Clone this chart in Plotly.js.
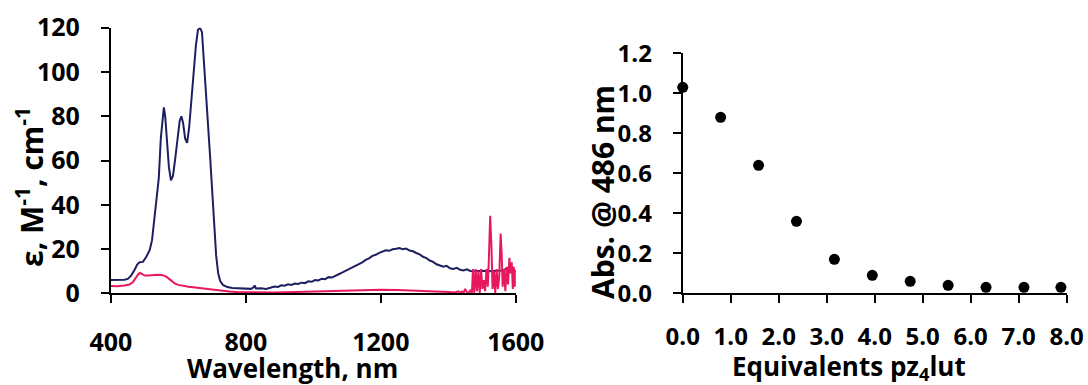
<!DOCTYPE html>
<html>
<head>
<meta charset="utf-8">
<script src="https://cdn.plot.ly/plotly-3.0.1.min.js"></script>
<style>html,body{margin:0;padding:0;background:#fff;}#chart{width:1088px;height:385px;}</style>
</head>
<body>
<div id="chart"></div>
<script>
// Left panel: absorption spectra (wavelength in nm, epsilon in M^-1 cm^-1)
const blueWavelength = [400,420,440,450,460,470,478,485,495,505,515,522,528,535,542,548,553,557,561,566,572,578,584,590,597,604,609,614,620,626,632,638,645,652,658,664,670,676,682,688,694,700,706,712,718,724,732,745,760,780,800,815,822,826,830,845,860,875,885,895,905,915,925,935,945,955,965,975,985,995,1005,1015,1025,1035,1045,1055,1065,1075,1085,1095,1105,1115,1125,1135,1145,1155,1165,1175,1185,1195,1205,1215,1225,1235,1245,1255,1265,1275,1285,1295,1305,1315,1325,1335,1345,1355,1365,1375,1385,1395,1405,1415,1425,1435,1445,1455,1465,1480,1500,1520,1540,1560,1575,1585,1592,1600];
const blueEpsilon = [6.0,6.0,6.1,6.5,8.0,10.5,13.0,14.0,14.2,16.5,19.5,24,33,41,52,70,80,84,80,68,57,51,53,60,70,78,80,77,70,68,75,87,100,112,119,120,118,105,92,78,62,47,32,17,9,5.5,3.8,2.8,2.4,2.2,2.1,2.0,2.6,3.5,2.2,2.3,2.0,2.6,3.1,2.9,3.6,3.4,4.1,3.8,4.4,4.2,4.8,4.6,5.4,5.2,6.0,5.8,6.6,6.4,7.3,7.1,8.0,8.6,9.3,10.1,10.7,11.6,12.3,13.4,14.0,15.1,15.8,16.9,17.4,18.3,18.7,19.4,19.2,19.9,20.1,20.4,19.9,20.2,19.3,19.0,18.2,17.6,16.5,15.9,14.8,14.2,13.1,12.7,12.0,12.4,11.3,11.0,11.5,10.6,10.3,10.8,10.1,10.0,10.2,10.0,10.1,10.3,11.2,12.0,10.8,9.8];

const pinkWavelength = [400,420,440,455,465,475,482,487,493,500,510,520,530,540,550,558,566,574,582,590,600,615,630,650,670,690,710,730,750,780,820,880,950,1000,1050,1100,1150,1200,1250,1300,1350,1400,1420,1430,1435,1440,1445,1450,1455,1460,1465,1470,1473,1477,1481,1485,1489,1493,1497,1501,1505,1509,1513,1517,1520,1524,1528,1531,1535,1539,1543,1547,1551,1555,1558,1561,1565,1569,1573,1577,1581,1584,1588,1591,1594,1597,1600];
const pinkEpsilon = [3.3,3.2,3.5,4.0,5.0,7.0,8.8,9.2,8.5,8.0,8.0,8.2,8.3,8.4,8.3,8.0,7.3,6.2,5.2,4.4,3.8,3.3,3.0,2.6,2.2,1.8,1.4,1.0,0.8,0.5,0.4,0.4,0.6,0.8,1.0,1.3,1.5,1.6,1.5,1.3,1.0,0.6,0.4,0.9,0.2,0.8,0.3,2.0,0.4,0.2,1.2,0.3,11,0,11,1,10,0,11,2,6,1,11,3,15,35,20,2,10,0,11,2,8,27,18,3,11,1,12,4,16,9,14,2,12,3,10];

const xTicksLeft = [400,800,1200,1600];

// Right panel: titration
const equivalents = [0,0.79,1.58,2.37,3.16,3.95,4.74,5.53,6.32,7.11,7.88];
const absorbance = [1.03,0.88,0.64,0.36,0.17,0.09,0.06,0.04,0.03,0.03,0.03];
const xTicksRight = [0,1,2,3,4,5,6,7,8];

const FONT = "Open Sans, Noto Sans, Liberation Sans, sans-serif";

const traces = [
  {x: blueWavelength, y: blueEpsilon, type: 'scatter', mode: 'lines',
   line: {color: '#1d2060', width: 2}, xaxis: 'x', yaxis: 'y', hoverinfo: 'skip'},
  {x: pinkWavelength, y: pinkEpsilon, type: 'scatter', mode: 'lines',
   line: {color: '#e8185c', width: 2}, xaxis: 'x', yaxis: 'y', hoverinfo: 'skip'},
  {x: equivalents, y: absorbance, type: 'scatter', mode: 'markers', cliponaxis: false,
   marker: {color: '#000', size: 11}, xaxis: 'x2', yaxis: 'y2', hoverinfo: 'skip'}
];

const axisBase = {
  showline: true, linecolor: '#000', linewidth: 2, mirror: false,
  ticks: 'outside', ticklen: 8, tickwidth: 2, tickcolor: '#000',
  showgrid: false, zeroline: false, automargin: false,
  fixedrange: true
};

function titleAnn(text, xpx, ypx, size, angle) {
  return {text: text, xref: 'paper', yref: 'paper',
    x: xpx / 1088, y: 1 - ypx / 385, xanchor: 'center', yanchor: 'middle',
    textangle: angle, showarrow: false,
    font: {size: size, family: FONT, weight: 'bold', color: '#000'}};
}

const layout = {
  width: 1088, height: 385,
  margin: {l: 0, r: 0, t: 0, b: 0},
  paper_bgcolor: '#fff', plot_bgcolor: '#fff',
  showlegend: false,
  font: {family: FONT, color: '#000', weight: 'bold'},
  xaxis: Object.assign({}, axisBase, {
    domain: [0.1019, 0.4741], range: [400, 1600], tickvals: xTicksLeft,
    tickfont: {size: 25, family: FONT, weight: 'bold'}, ticklabelstandoff: 18,
    anchor: 'y'
  }),
  yaxis: Object.assign({}, axisBase, {
    domain: [0.2382, 0.928], range: [0, 120], dtick: 20, tick0: 0,
    tickfont: {size: 25, family: FONT, weight: 'bold'}, ticklabelstandoff: 16,
    anchor: 'x'
  }),
  xaxis2: Object.assign({}, axisBase, {
    domain: [0.6275, 0.9804], range: [0, 8], tickvals: xTicksRight, tickformat: '.1f',
    tickfont: {size: 24, family: FONT, weight: 'bold'}, ticklabelstandoff: 13,
    anchor: 'y2'
  }),
  yaxis2: Object.assign({}, axisBase, {
    domain: [0.2382, 0.8616], range: [0, 1.2], dtick: 0.2, tick0: 0, tickformat: '.1f',
    tickfont: {size: 24, family: FONT, weight: 'bold'}, ticklabelstandoff: 16,
    anchor: 'x2'
  }),
  annotations: [
    titleAnn('ε, M<sup>-1</sup>, cm<sup>-1</sup>', 30, 187, 30, -90),
    titleAnn('Wavelength, nm', 292, 368, 26, 0),
    titleAnn('Abs. @ 486 nm', 603, 192, 30, -90),
    titleAnn('Equivalents pz<sub>4</sub>lut', 849, 367, 26, 0)
  ]
};

Plotly.newPlot('chart', traces, layout, {displayModeBar: false, staticPlot: true});
</script>
</body>
</html>
